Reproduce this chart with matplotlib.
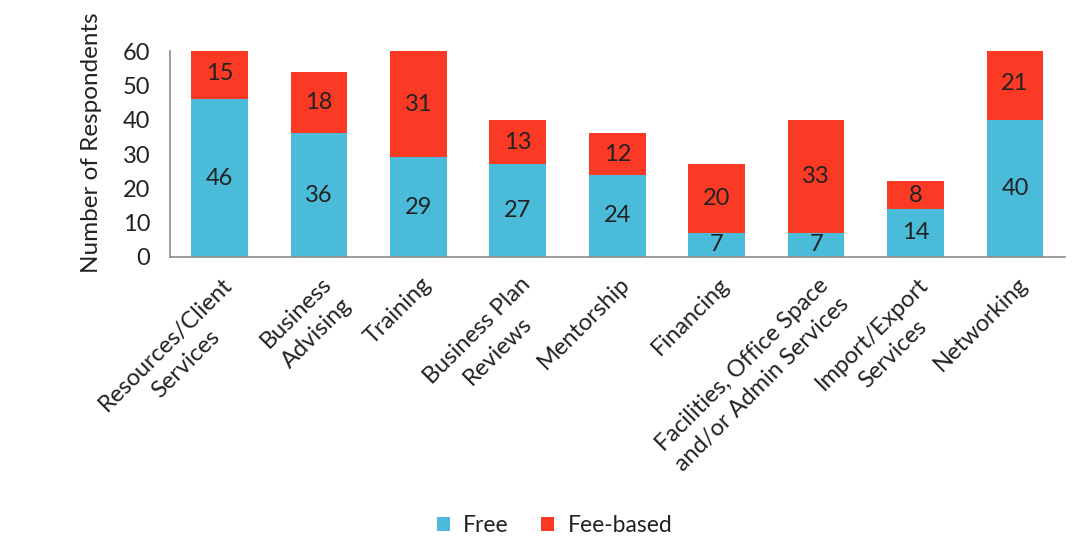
import matplotlib
matplotlib.use("Agg")
import matplotlib.pyplot as plt
import matplotlib.transforms as mtransforms
import numpy as np

categories = [
    "Resources/Client\nServices",
    "Business\nAdvising",
    "Training",
    "Business Plan\nReviews",
    "Mentorship",
    "Financing",
    "Facilities, Office Space\nand/or Admin Services",
    "Import/Export\nServices",
    "Networking",
]
free = [46, 36, 29, 27, 24, 7, 7, 14, 40]
fee_based = [15, 18, 31, 13, 12, 20, 33, 8, 21]
y_ticks = [0, 10, 20, 30, 40, 50, 60]

BLUE = "#4ABCD9"
RED = "#FA3A24"
TEXT = "#222222"

plt.rcParams["font.family"] = ["Lato", "DejaVu Sans"]

fig = plt.figure(figsize=(10.81, 5.56), dpi=100)
ax = fig.add_axes([0.157, 0.538, 0.828, 0.370])

x = np.arange(len(categories))
width = 0.57
ax.bar(x, free, width, color=BLUE, label="Free")
ax.bar(x, fee_based, width, bottom=free, color=RED, label="Fee-based")

for xi, f, p in zip(x, free, fee_based):
    ax.text(xi, f / 2, str(f), ha="center", va="center", fontsize=17, color=TEXT)
    ax.text(xi, f + p / 2, str(p), ha="center", va="center", fontsize=17, color=TEXT)

ax.set_xlim(-0.5, 8.5)
ax.set_ylim(0, 60)
ax.set_yticks(y_ticks)
ax.tick_params(axis="y", length=0, pad=14, labelsize=17, labelcolor=TEXT)
ax.tick_params(axis="x", length=0, pad=12)
ax.set_xticks(x)
ax.set_xticklabels(categories, rotation=45, ha="right", rotation_mode="anchor",
                   fontsize=17, color=TEXT, multialignment="center", linespacing=1.45)
shift = mtransforms.ScaledTranslation(2 / 100, 0, fig.dpi_scale_trans)
for lbl in ax.get_xticklabels():
    lbl.set_transform(lbl.get_transform() + shift)
ax.set_ylabel("Number of Respondents", fontsize=17.5, color=TEXT)
ax.yaxis.set_label_coords(-0.076, 0.553)

for side in ("top", "right"):
    ax.spines[side].set_visible(False)
for side in ("left", "bottom"):
    ax.spines[side].set_color("#8c8c8c")
    ax.spines[side].set_linewidth(1.2)

fig.legend(loc="center", bbox_to_anchor=(0.513, 0.055), ncol=2, frameon=False,
           fontsize=16.5, handlelength=0.57, handleheight=0.57, columnspacing=1.4,
           handletextpad=0.6, labelcolor=TEXT)

fig.savefig("out.png", dpi=100)
